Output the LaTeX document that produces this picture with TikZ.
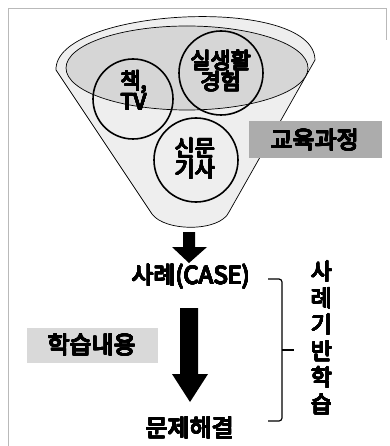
\documentclass[tikz,border=0pt]{standalone}
\usepackage{fontspec}
\setmainfont{Noto Sans CJK KR}
\usepackage[copies]{contour}
\contourlength{0.5pt}
\contournumber{16}
\newcommand\bt[1]{\contour{black}{#1}}
\begin{document}
\begin{tikzpicture}[x=1pt,y=-1pt,
  lbl/.style={font=\fontsize{22}{23}\selectfont, inner sep=0pt, align=center},
  big/.style={lbl, font=\fontsize{24}{24}\selectfont},
  ring/.style={draw=black, line width=1.6pt, circle, inner sep=0pt},
  blockarrow/.style={fill=black}]
\useasboundingbox (0,0) rectangle (389,446);
% frame
\draw[gray!55, line width=0.6pt] (8,446) -- (8,8) -- (386,8) -- (386,40);
% funnel
\draw[fill=gray!13, line width=0.7pt] (56,70) .. controls (54,8) and (314,-6) .. (315,60)
  -- (229,212) .. controls (220,232) and (165,232) .. (152,214) -- cycle;
\draw[fill=gray!32, line width=0.7pt] (187,68) ellipse [x radius=121, y radius=42];
% circles
\node[ring, minimum size=80pt] (book) at (133,99) {};
\node[ring, minimum size=84pt] (life) at (221,73) {};
\node[ring, minimum size=84pt] (news) at (196,160) {};
\node[lbl] (bookt) at (134,91) {\bt{책,}\\[-2pt]\bt{TV}};
\node[lbl] (lifet) at (221,71) {\bt{실생활}\\[-2pt]\bt{경험}};
\node[lbl] (newst) at (195,159) {\bt{신문}\\[-2pt]\bt{기사}};
% curriculum box
\node[fill=gray!65, minimum width=133pt, minimum height=37pt, inner sep=0pt] (curr) at (315,140) {};
\node[big] at (curr) {\bt{교육과정}};
% steps
\node[big] (case) at (191,277) {\bt{사례(CASE)}};
\node[big] (solve) at (190,428) {\bt{문제해결}};
\fill[blockarrow] (183,232) -- (195,232) -- (195,247) -- (207,247) -- (189,263) -- (172,247) -- (183,247) -- cycle;
\fill[blockarrow] (180,308) -- (198,308) -- (198,374) -- (208,374) -- (190,402) -- (172,374) -- (180,374) -- cycle;
% learning content box
\node[fill=gray!30, minimum width=131pt, minimum height=35pt, inner sep=0pt] (learn) at (92,345) {};
\node[big] at (learn) {\bt{학습내용}};
% brace
\draw[line width=1.2pt, rounded corners=3pt] (268,279) -- (282,279) -- (282,421) -- (268,421);
\draw[line width=1.2pt] (282,350) -- (294,350);
\node[lbl, font=\fontsize{23}{26.5}\selectfont] (cbl) at (322,338) {\bt{사}\\\bt{례}\\\bt{기}\\\bt{반}\\\bt{학}\\\bt{습}};
\end{tikzpicture}
\end{document}
